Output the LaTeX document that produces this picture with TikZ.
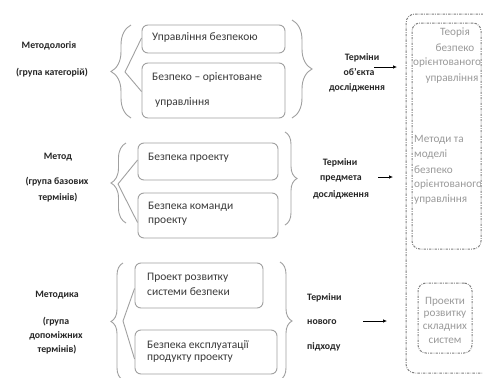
\documentclass[tikz,border=0pt]{standalone}
\usepackage{fontspec}
\setmainfont{Carlito}
\usetikzlibrary{decorations.pathreplacing,arrows.meta}
\definecolor{boxgray}{HTML}{A0A0A0}
\definecolor{dashgray}{HTML}{808080}
\definecolor{textdark}{HTML}{3A3A3A}
\definecolor{labeldark}{HTML}{262626}
\definecolor{lightgray}{HTML}{9A9A9A}
\begin{document}
\begin{tikzpicture}[x=1pt,y=-1pt,
  boxst/.style={draw=boxgray, line width=0.9pt, rounded corners=6pt, inner sep=0pt},
  txt/.style={font=\fontsize{11.5}{13}\selectfont, text=textdark, anchor=west, inner sep=0pt},
  lbl/.style={font=\bfseries\fontsize{9.8}{11}\selectfont, text=labeldark, inner sep=0pt},
  gtxt/.style={font=\fontsize{11.2}{13}\selectfont, text=lightgray, inner sep=0pt},
  brc/.style={draw=boxgray, line width=0.9pt, decorate, decoration={brace, amplitude=#1}},
  diag/.style={draw=boxgray, line width=0.9pt},
  dbox/.style={draw=dashgray, line width=1pt, rounded corners=9pt, inner sep=0pt,
    dash pattern=on 2.4pt off 1.2pt on 0.7pt off 1.2pt},
  arr/.style={draw=black, line width=0.7pt, -{Latex[length=4pt,width=3.6pt]}}
]
\useasboundingbox (0,0) rectangle (483,378);
\fill[white] (0,0) rectangle (483,378);

% ---------- left labels ----------
\node[lbl] (l1a) at (49,46) {Методологія};
\node[lbl] (l1b) at (52,73) {(група категорій)};
\node[lbl] (l2a) at (58,157) {Метод};
\node[lbl] (l2b) at (57,182) {(група базових};
\node[lbl] (l2c) at (58,198) {термінів)};
\node[lbl] (l3a) at (57,295) {Методика};
\node[lbl] (l3b) at (56,322) {(група};
\node[lbl] (l3c) at (56,336) {допоміжних};
\node[lbl] (l3d) at (57,350) {термінів)};

% ---------- boxes ----------
\node[boxst, minimum width=143pt, minimum height=28pt] (A) at (213.5,39) {};
\node[boxst, minimum width=143pt, minimum height=55pt] (B) at (213.5,90.5) {};
\node[boxst, minimum width=140pt, minimum height=37pt] (C) at (208,161.5) {};
\node[boxst, minimum width=140pt, minimum height=45pt] (D) at (208,215.5) {};
\node[boxst, minimum width=128pt, minimum height=45pt] (E) at (199,285.5) {};
\node[boxst, minimum width=142pt, minimum height=44pt] (F) at (206,352) {};

\node[txt] (ta) at (152,37) {Управління безпекою};
\node[txt] (tb1) at (152,77) {Безпеко – орієнтоване};
\node[txt] (tb2) at (155,102) {управління};
\node[txt] (tc) at (148,158) {Безпека проекту};
\node[txt] (td1) at (148,207) {Безпека команди};
\node[txt] (td2) at (148,222) {проекту};
\node[txt] (te1) at (147,278) {Проект розвитку};
\node[txt] (te2) at (147,292) {системи безпеки};
\node[txt] (tf1) at (147,345) {Безпека експлуатації};
\node[txt] (tf2) at (147,359) {продукту проекту};

% ---------- left braces ----------
\draw[brc=20pt] (131,118) -- (131,25);
\draw[brc=15pt] (126,223) -- (126,143);
\draw[brc=12pt] (123,380) -- (123,263);
\coordinate (p1) at (125,72);
\coordinate (p2) at (118,184);
\coordinate (p3) at (123,321);
\draw[diag] (p1) -- ([yshift=1pt]A.west);
\draw[diag] (p1) -- ([yshift=-1pt]B.west);
\draw[diag] (p2) -- ([yshift=1.5pt]C.west);
\draw[diag] (p2) -- ([yshift=-7pt]D.west);
\draw[diag] (p3) -- ([yshift=-3pt]E.west);
\draw[diag] (p3) -- ([yshift=-7pt]F.west);

% ---------- right braces ----------
\draw[brc=20pt] (292,20) -- (292,118);
\draw[brc=12pt] (285,132) -- (285,225);
\draw[brc=12pt] (280,262) -- (280,380);

% ---------- middle labels ----------
\node[lbl] (m1a) at (362,58) {Терміни};
\node[lbl] (m1b) at (359,72) {об’єкта};
\node[lbl] (m1c) at (357,88) {дослідження};
\node[lbl] (m2a) at (340,163) {Терміни};
\node[lbl] (m2b) at (341,179) {предмета};
\node[lbl] (m2c) at (341,195) {дослідження};
\node[lbl, anchor=west] (m3a) at (307,298) {Терміни};
\node[lbl, anchor=west] (m3b) at (307,322) {нового};
\node[lbl, anchor=west] (m3c) at (307,347) {підходу};

% ---------- right column ----------
\node[dbox, minimum width=92pt, minimum height=359pt] (outer) at (452,193.5) {};
\node[dbox, rounded corners=8pt, minimum width=69pt, minimum height=226pt] (in1) at (446.5,136) {};
\node[dbox, rounded corners=8pt, minimum width=54pt, minimum height=70pt] (in3) at (445,318) {};

\begin{scope}
\clip (400,0) rectangle (480.5,260);
\node[gtxt] (r1a) at (455,33) {Теорія};
\node[gtxt] (r1b) at (455,48) {безпеко};
\node[gtxt, anchor=west] (r1c) at (413,63) {орієнтованого};
\node[gtxt] (r1d) at (452,79) {управління};

\node[gtxt, anchor=west] (r2a) at (414,140) {Методи та};
\node[gtxt, anchor=west] (r2b) at (414,155) {моделі};
\node[gtxt, anchor=west] (r2c) at (414,170) {безпеко};
\node[gtxt, anchor=west] (r2d) at (414,185) {орієнтованого};
\node[gtxt, anchor=west] (r2e) at (414,200) {управління};
\end{scope}

\node[gtxt] (r3a) at (445,302) {Проекти};
\node[gtxt] (r3b) at (445,315) {розвитку};
\node[gtxt] (r3c) at (445,328) {складних};
\node[gtxt] (r3d) at (445,341) {систем};

% ---------- arrows ----------
\coordinate (a1s) at (374,67);
\coordinate (a1e) at (397,67);
\coordinate (a2s) at (378,177);
\coordinate (a2e) at (393,177);
\coordinate (a3s) at (363,321);
\coordinate (a3e) at (387,321);
\draw[arr] (a1s) -- (a1e);
\draw[arr] (a2s) -- (a2e);
\draw[arr] (a3s) -- (a3e);
\end{tikzpicture}
\end{document}
